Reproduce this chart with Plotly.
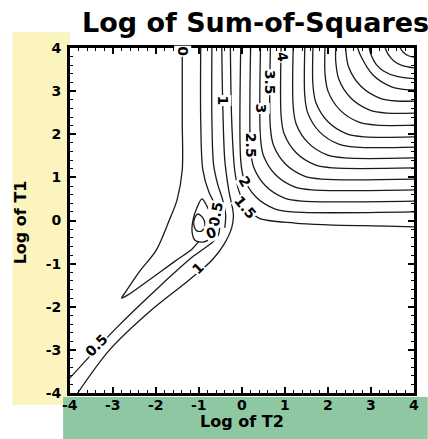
import plotly.graph_objects as go

# ---- contour polylines (x = Log of T2, y = Log of T1) ----
c0_x = [-1.39, -1.39, -1.39, -1.51, -1.69, -1.99, -2.39, -2.71, -2.80, -2.66, -2.16, -1.58, -1.16, -1.00]
c0_y = [4.0, 2.33, 1.17, 0.48, 0.01, -0.68, -1.19, -1.66, -1.80, -1.73, -1.38, -0.96, -0.66, -0.48]
c0_loop_x = [-0.93, -0.82, -0.70, -0.66, -0.73, -0.91, -1.10, -1.16, -1.14, -1.05, -0.93]
c0_loop_y = [0.50, 0.34, 0.08, -0.17, -0.41, -0.50, -0.45, -0.27, 0.01, 0.29, 0.50]
cm05_x = [-1.03, -0.91, -0.86, -0.93, -1.05, -1.12, -1.10, -1.03]
cm05_y = [0.15, 0.06, -0.10, -0.24, -0.24, -0.10, 0.06, 0.15]
c05_x = [-0.96, -0.96, -0.91, -0.77, -0.59, -0.52, -0.56, -0.73, -1.12, -1.93, -2.92, -4.0]
c05_y = [4.0, 2.33, 1.17, 0.66, 0.29, -0.03, -0.36, -0.54, -0.82, -1.54, -2.49, -3.65]
c075_x = [-0.70, -0.70, -0.66, -0.56, -0.45, -0.38, -0.40]
c075_y = [4.0, 2.33, 1.29, 0.82, 0.48, 0.13, -0.17]
c10_x = [-0.47, -0.45, -0.40, -0.31, -0.20, -0.24, -0.43, -0.70, -1.23, -2.16, -3.08, -3.82]
c10_y = [4.0, 2.79, 1.40, 0.71, 0.13, -0.17, -0.57, -0.92, -1.38, -2.12, -3.00, -4.0]
c15_x = [-0.27, -0.24, -0.17, -0.08, 0.08, 0.38, 1.23, 1.99, 3.38, 4.0]
c15_y = [4.0, 2.33, 1.17, 0.71, 0.36, 0.06, -0.06, -0.10, -0.13, -0.15]
c20_x = [-0.03, -0.03, 0.04, 0.32, 0.76, 1.17, 4.0]
c20_y = [4.0, 1.40, 0.99, 0.55, 0.27, 0.20, 0.20]
c25_x = [0.20, 0.20, 0.27, 0.55, 0.99, 1.40, 4.0]
c25_y = [4.0, 1.65, 1.24, 0.80, 0.52, 0.45, 0.45]
c30_x = [0.43, 0.43, 0.50, 0.78, 1.22, 1.63, 4.0]
c30_y = [4.0, 1.91, 1.50, 1.06, 0.78, 0.71, 0.71]
c35_x = [0.66, 0.66, 0.73, 1.01, 1.45, 1.86, 4.0]
c35_y = [4.0, 2.16, 1.75, 1.31, 1.03, 0.96, 0.96]
c40_x = [0.91, 0.91, 0.98, 1.26, 1.70, 2.11, 4.0]
c40_y = [4.0, 2.42, 2.01, 1.57, 1.29, 1.22, 1.22]
c45_x = [1.19, 1.19, 1.26, 1.54, 1.98, 2.39, 4.0]
c45_y = [4.0, 2.65, 2.24, 1.80, 1.52, 1.45, 1.45]
c50_x = [1.46, 1.46, 1.53, 1.81, 2.25, 2.66, 4.0]
c50_y = [4.0, 2.90, 2.49, 2.05, 1.77, 1.70, 1.70]
c55_x = [1.65, 1.65, 1.72, 2.00, 2.44, 2.85, 4.0]
c55_y = [4.0, 3.14, 2.73, 2.29, 2.01, 1.94, 1.94]
c60_x = [1.93, 1.93, 2.00, 2.28, 2.72, 3.13, 4.0]
c60_y = [4.0, 3.41, 3.00, 2.56, 2.28, 2.21, 2.21]
c65_x = [2.18, 2.18, 2.25, 2.53, 2.97, 3.38, 4.0]
c65_y = [4.0, 3.69, 3.28, 2.84, 2.56, 2.49, 2.49]
c70_x = [2.41, 2.48, 2.76, 3.20, 3.61, 4.0]
c70_y = [4.0, 3.56, 3.12, 2.84, 2.77, 2.77]
c75_x = [2.69, 2.76, 3.04, 3.48, 3.89, 4.0]
c75_y = [4.0, 3.82, 3.38, 3.10, 3.03, 3.03]
c80_x = [2.96, 3.01, 3.12, 3.30, 3.60, 4.0]
c80_y = [4.0, 3.82, 3.62, 3.46, 3.34, 3.29]
c85_x = [3.33, 3.40, 3.53, 3.73, 4.0]
c85_y = [4.0, 3.85, 3.70, 3.59, 3.54]
c90_x = [3.68, 3.75, 3.87, 4.0]
c90_y = [4.0, 3.90, 3.82, 3.79]

# contour labels: text, x, y
label_text = ["0", "1", "1.5", "2", "2.5", "3", "3.5", "4", "0.5", "1", "0.5", "0"]
label_x = [-1.39, -0.45, 0.07, 0.08, 0.20, 0.44, 0.67, 0.95, -3.38, -1.02, -0.60, -0.73]
label_y = [3.92, 2.79, 0.31, 0.90, 1.74, 2.60, 3.20, 3.80, -2.89, -1.10, 0.14, -0.28]
label_angle = [90, 90, 50, 60, 90, 90, 90, 80, -45, -45, -80, -20]

tick_vals = [-4, -3, -2, -1, 0, 1, 2, 3, 4]
tick_text = ["-4", "-3", "-2", "-1", "0", "1", "2", "3", "4"]

curves = [
    (c0_x, c0_y), (c0_loop_x, c0_loop_y), (cm05_x, cm05_y), (c05_x, c05_y),
    (c075_x, c075_y), (c10_x, c10_y), (c15_x, c15_y), (c20_x, c20_y),
    (c25_x, c25_y), (c30_x, c30_y), (c35_x, c35_y), (c40_x, c40_y),
    (c45_x, c45_y), (c50_x, c50_y), (c55_x, c55_y), (c60_x, c60_y),
    (c65_x, c65_y), (c70_x, c70_y), (c75_x, c75_y), (c80_x, c80_y),
    (c85_x, c85_y), (c90_x, c90_y),
]

FONT = "DejaVu Sans"
fig = go.Figure()
for cx, cy in curves:
    fig.add_trace(go.Scatter(
        x=cx, y=cy, mode="lines",
        line=dict(color="#1a1a1a", width=1.3, shape="spline", smoothing=0.9),
        showlegend=False, hoverinfo="skip",
    ))

annotations = []
for t, lx, ly, ang in zip(label_text, label_x, label_y, label_angle):
    annotations.append(dict(
        x=lx, y=ly, xref="x", yref="y", text="<b>%s</b>" % t, showarrow=False,
        textangle=ang, bgcolor="white", borderpad=0,
        font=dict(family=FONT, size=14, color="black"),
    ))

# x tick labels placed tight under the frame
for tv, tt in zip(tick_vals, tick_text):
    annotations.append(dict(
        x=tv, y=0, xref="x", yref="paper", text="<b>%s</b>" % tt, showarrow=False,
        xanchor="center", yanchor="top", yshift=-2,
        font=dict(family=FONT, size=14, color="black"),
    ))

annotations += [
    dict(x=0.538, y=1.075, xref="paper", yref="paper", text="<b>Log of Sum-of-Squares</b>",
         showarrow=False, xanchor="center", yanchor="middle",
         font=dict(family=FONT, size=27, color="black")),
    dict(x=0.5, y=-0.082, xref="paper", yref="paper", text="<b>Log of T2</b>",
         showarrow=False, xanchor="center", yanchor="middle",
         font=dict(family=FONT, size=16, color="black")),
    dict(x=-0.144, y=0.496, xref="paper", yref="paper", text="<b>Log of T1</b>",
         showarrow=False, xanchor="center", yanchor="middle", textangle=-90,
         font=dict(family=FONT, size=16, color="black")),
]

shapes = [
    dict(type="rect", xref="paper", yref="paper", x0=-0.167, x1=0.0, y0=-0.035, y1=1.046,
         fillcolor="#FBF4BE", line=dict(width=0), layer="below"),
    dict(type="rect", xref="paper", yref="paper", x0=-0.020, x1=1.04, y0=-0.14, y1=-0.0116,
         fillcolor="#8DC8A2", line=dict(width=0), layer="below"),
]

axis_common = dict(
    range=[-4, 4], tickmode="array", tickvals=tick_vals, ticktext=tick_text,
    ticks="inside", ticklen=6, tickwidth=1.5, tickcolor="black",
    showline=True, linewidth=3, linecolor="black", mirror="allticks",
    showgrid=False, zeroline=False,
    tickfont=dict(family=FONT, size=14, color="black", weight="bold"),
    minor=dict(tick0=-4, dtick=0.2, ticks="inside", ticklen=3, tickwidth=1, tickcolor="black"),
)

fig.update_layout(
    width=428, height=439,
    margin=dict(l=70, r=11, t=48, b=46),
    paper_bgcolor="white", plot_bgcolor="white",
    xaxis=dict(**axis_common, showticklabels=False),
    yaxis=dict(**axis_common, ticklabelstandoff=3),
    annotations=annotations, shapes=shapes,
)

fig.write_html("out.html")
